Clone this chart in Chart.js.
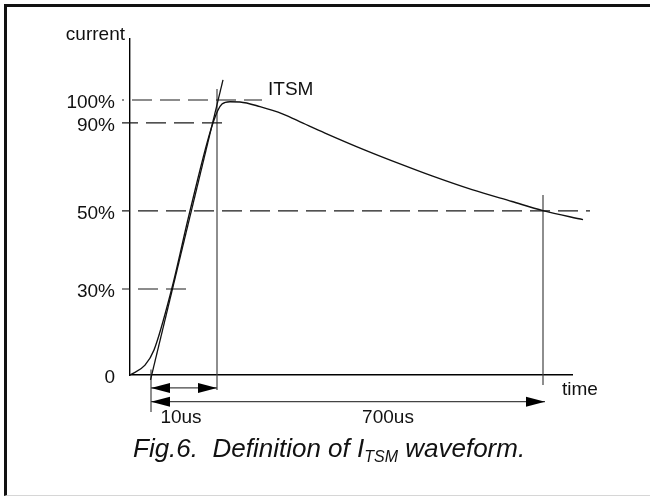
<!DOCTYPE html>
<html>
<head>
<meta charset="utf-8">
<script src="https://cdn.jsdelivr.net/npm/chart.js@4.4.1/dist/chart.umd.min.js"></script>
<style>
  html, body { margin: 0; padding: 0; background: #fff; }
  #wrap { position: relative; width: 650px; height: 496px; overflow: hidden; font-family: "Liberation Sans", Arial, sans-serif; }
  #frame { position: absolute; left: 4px; top: 4px; width: 660px; height: 488px; border-top: 3px solid #111; border-left: 3px solid #111; border-bottom: 1px solid #d6d6d6; }
  canvas { position: absolute; left: 0; top: 0; }
  #caption { position: absolute; left: 133px; top: 433px; font-size: 26px; font-style: italic; line-height: 30px; white-space: nowrap; color: #111; }
  #caption sub { font-size: 16px; vertical-align: baseline; position: relative; top: 5px; line-height: 0; }
</style>
</head>
<body>
<div id="wrap">
  <div id="frame"></div>
  <canvas id="chart" width="650" height="496"></canvas>
  <div id="caption">Fig.6.&nbsp; Definition of I<sub>TSM</sub> waveform.</div>
</div>
<script>
// schematic, not to scale: x and y are drawing units
const X_MAX = 442;
const Y_MAX = 122.2;

// y tick positions and their labels
const tickLevels = [0, 31.3, 59.7, 91.7, 100];
const tickLabels = ["0", "30%", "50%", "90%", "100%"];

// how far each dashed level line runs to the right (30%, 50%, 90%, 100%)
const levelEnds = [57, 460, 95, 132];
const levelDashOffset = [12, 12, 4, 18];

// surge current waveform
const waveX = [0, 15, 24, 41.7, 60, 83, 92, 100, 110, 130, 153, 173, 195, 235, 272, 302, 342, 382, 413, 453];
const waveY = [0, 3.6, 9.1, 31.3, 59.7, 91.7, 98.55, 99.4, 99.3, 97.6, 94.9, 91.6, 88, 81.8, 76.5, 72.4, 67.4, 63.1, 59.8, 56.5];

// straight front line through the 30% / 90% points
const rampX = [20.5, 93];
const rampY = [-1.8, 107.3];

// vertical markers: [x, top, bottom]
const markers = [
  [21, 2, -13.5],
  [87, 104, -5.5],
  [413, 65.5, -3.6]
];

// time spans: 10us and 700us
const spanLabels = ["10us", "700us"];
const spanFrom = [21, 21];
const spanTo = [87, 415];
const spanLevel = [-4.7, -9.7];

const notes = [
  {text: "current", x: -5, y: 123.6, align: "right"},
  {text: "ITSM", x: 138, y: 103.6, align: "left"},
  {text: "time", x: 432, y: -5.2, align: "left"},
  {text: spanLabels[0], x: 51, y: -15.4, align: "center"},
  {text: spanLabels[1], x: 258, y: -15.4, align: "center"}
];

const FONT = '"Liberation Sans", Arial, sans-serif';

const datasets = [];

datasets.push({
  data: waveX.map((x, i) => ({x: x, y: waveY[i]})),
  borderColor: "#111",
  borderWidth: 1.4,
  cubicInterpolationMode: "monotone"
});

datasets.push({
  data: rampX.map((x, i) => ({x: x, y: rampY[i]})),
  borderColor: "#111",
  borderWidth: 1.3
});

tickLevels.slice(1).forEach((lv, i) => {
  datasets.push({
    data: [{x: -8, y: lv}, {x: levelEnds[i], y: lv}],
    borderColor: "#1a1a1a",
    borderWidth: 1.1,
    borderDash: [20, 8],
    borderDashOffset: levelDashOffset[i]
  });
});

markers.forEach(m => {
  datasets.push({
    data: [{x: m[0], y: m[1]}, {x: m[0], y: m[2]}],
    borderColor: "#444",
    borderWidth: 1.2
  });
});

spanFrom.forEach((x0, i) => {
  datasets.push({
    data: [{x: x0, y: spanLevel[i]}, {x: spanTo[i], y: spanLevel[i]}],
    borderColor: "#444",
    borderWidth: 1.2
  });
});

datasets.forEach(d => { d.clip = false; });

function arrowHead(ctx, px, py, dir) {
  ctx.beginPath();
  ctx.moveTo(px, py);
  ctx.lineTo(px - dir * 19, py - 5);
  ctx.lineTo(px - dir * 19, py + 5);
  ctx.closePath();
  ctx.fill();
}

const marks = {
  id: "marks",
  afterDatasetsDraw(chart) {
    const {ctx, scales: {x, y}} = chart;
    ctx.save();
    ctx.fillStyle = "#000";
    spanFrom.forEach((x0, i) => {
      const py = y.getPixelForValue(spanLevel[i]);
      arrowHead(ctx, x.getPixelForValue(x0), py, -1);
      arrowHead(ctx, x.getPixelForValue(spanTo[i]), py, 1);
    });
    ctx.fillStyle = "#111";
    ctx.font = "19px " + FONT;
    ctx.textBaseline = "middle";
    notes.forEach(n => {
      ctx.textAlign = n.align;
      ctx.fillText(n.text, x.getPixelForValue(n.x), y.getPixelForValue(n.y));
    });
    ctx.restore();
  }
};

new Chart(document.getElementById("chart").getContext("2d"), {
  type: "line",
  data: {datasets: datasets},
  options: {
    responsive: false,
    animation: false,
    events: [],
    elements: {point: {radius: 0}, line: {fill: false}},
    layout: {padding: {left: 0, top: 39, right: 78, bottom: 0}},
    plugins: {legend: {display: false}, tooltip: {enabled: false}},
    scales: {
      x: {
        type: "linear",
        min: 0,
        max: X_MAX,
        grid: {display: false, drawTicks: false},
        border: {color: "#000", width: 1.4},
        ticks: {display: false},
        afterFit(s) { s.height = 121; }
      },
      y: {
        type: "linear",
        min: 0,
        max: Y_MAX,
        grid: {display: false, drawTicks: false},
        border: {color: "#000", width: 1.4},
        ticks: {
          padding: 15,
          labelOffset: 3,
          color: "#111",
          font: {family: FONT, size: 19},
          callback: (v, i) => tickLabels[i]
        },
        afterBuildTicks(s) { s.ticks = tickLevels.map(v => ({value: v})); },
        afterFit(s) { s.width = 130; }
      }
    }
  },
  plugins: [marks]
});
</script>
</body>
</html>
